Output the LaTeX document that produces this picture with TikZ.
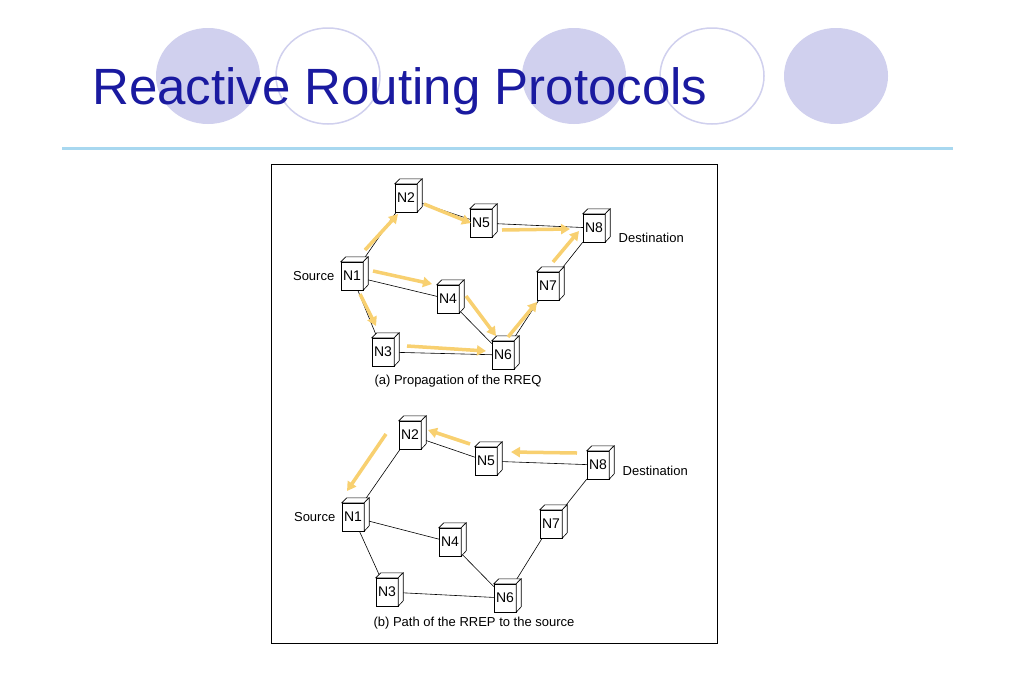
\documentclass[tikz,border=0pt]{standalone}
\usepackage{fontspec}
\setmainfont{Liberation Sans}
\usetikzlibrary{arrows.meta}
\definecolor{lav}{HTML}{D0D0EE}
\definecolor{ttl}{HTML}{1A1AA0}
\definecolor{rule}{HTML}{A8D8F0}
\definecolor{arr}{HTML}{F8D070}
\tikzset{
 box/.style={draw,fill=white,minimum width=22pt,minimum height=28pt,inner sep=0pt,font=\fontsize{14}{14}\selectfont},
 lbl/.style={font=\fontsize{13}{13}\selectfont},
 link/.style={draw,line width=0.6pt},
 msg/.style={draw=arr,line width=3.5pt,-{Triangle[length=9pt,width=10pt]}},
}
\newcommand{\cube}[1]{%
 \draw[fill=white,line width=0.6pt] (#1.north west) -- ++(5,-5) -- ++(22,0) -- (#1.north east) -- cycle;
 \draw[fill=white,line width=0.6pt] (#1.north east) -- ++(5,-5) -- ++(0,28) -- (#1.south east) -- cycle;}
\begin{document}
\begin{tikzpicture}[x=1pt,y=-1pt]
\useasboundingbox (0,0) rectangle (1024,683);
\fill[white] (0,0) rectangle (1024,683);
\fill[lav] (208,76) ellipse (52 and 48);
\draw[lav,line width=1.5pt] (328,76) ellipse (52 and 48);
\fill[lav] (574,76) ellipse (52 and 48);
\draw[lav,line width=1.5pt] (712,76) ellipse (52 and 48);
\fill[lav] (836,76) ellipse (52 and 48);
\node[anchor=base west,text=ttl,font=\fontsize{51}{51}\selectfont,inner sep=0] (title) at (92,104) {Reactive Routing Protocols};
\draw[rule,line width=3pt] (62,148) -- (953,148);
\draw[line width=0.8pt] (271,164) rectangle (717,643);
\foreach \n/\x/\y in {1/352/276,2/406/198,5/481/223,8/594/228,7/548/286,4/448/299,3/383/352,6/503/355}
  {\node[box] (a\n) at (\x,\y) {N\n};}
\foreach \n/\x/\y in {1/353/517,2/410/435,5/486/461,8/598/465,7/551/524,4/450/542,3/387/592,6/505/598}
  {\node[box] (b\n) at (\x,\y) {N\n};}
\foreach \p in {a,b}{
 \draw[link] (\p1) -- (\p2); \draw[link] (\p2) -- (\p5); \draw[link] (\p5) -- (\p8);
 \draw[link] (\p1) -- (\p4); \draw[link] (\p1) -- (\p3); \draw[link] (\p3) -- (\p6);
 \draw[link] (\p4) -- (\p6); \draw[link] (\p6) -- (\p7); \draw[link] (\p7) -- (\p8);
}
\foreach \p in {a,b}{\foreach \n in {1,2,3,4,5,6,7,8}{
 \node[box] at (\p\n) {N\n}; \cube{\p\n}}}
\node[lbl,anchor=east] (s1) at ([xshift=-3pt]a1.west) {Source};
\node[lbl,anchor=west] (d1) at ([xshift=10pt,yshift=-10pt]a8.east) {Destination};
\node[lbl,anchor=east] (s2) at ([xshift=-3pt]b1.west) {Source};
\node[lbl,anchor=west] (d2) at ([xshift=10pt,yshift=-6pt]b8.east) {Destination};
\node[lbl] (capa) at (458,381) {(a) Propagation of the RREQ};
\node[lbl] (capb) at (474,623) {(b) Path of the RREP to the source};
\coordinate (t1) at (365,250); \coordinate (t2) at (398,214);
\draw[msg] (t1) -- (t2);
\coordinate (t3) at (424,204); \coordinate (t4) at (471,223);
\draw[msg] (t3) -- (t4);
\coordinate (t5) at (502,230); \coordinate (t6) at (570,229);
\draw[msg] (t5) -- (t6);
\coordinate (t7) at (373,271); \coordinate (t8) at (432,284);
\draw[msg] (t7) -- (t8);
\coordinate (t9) at (360,294); \coordinate (t10) at (376,326);
\draw[msg] (t9) -- (t10);
\coordinate (t11) at (407,346); \coordinate (t12) at (486,351);
\draw[msg] (t11) -- (t12);
\coordinate (t13) at (466,296); \coordinate (t14) at (496,336);
\draw[msg] (t13) -- (t14);
\coordinate (t15) at (508,337); \coordinate (t16) at (537,302);
\draw[msg] (t15) -- (t16);
\coordinate (t17) at (553,262); \coordinate (t18) at (579,231);
\draw[msg] (t17) -- (t18);
\coordinate (u1) at (577,453); \coordinate (u2) at (511,452);
\draw[msg] (u1) -- (u2);
\coordinate (u3) at (470,444); \coordinate (u4) at (428,430);
\draw[msg] (u3) -- (u4);
\coordinate (u5) at (386,434); \coordinate (u6) at (347,491);
\draw[msg] (u5) -- (u6);
\end{tikzpicture}
\end{document}
